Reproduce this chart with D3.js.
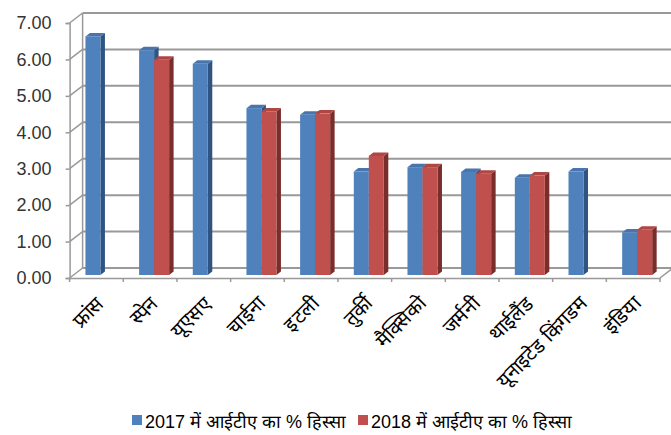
<!DOCTYPE html>
<html>
  <head>
    <meta charset="utf-8">
    <title>ITA share</title>
    <script src="https://cdn.jsdelivr.net/npm/d3@7"></script>
    <style>
      body { margin: 0; background: #fff; }
      text { font-family: "Liberation Sans", Arial, sans-serif; }
    </style>
  </head>
  <body>
    <svg width="671" height="435" id="mainsvg"></svg>
    <script>
      const categories = ['फ्रांस', 'स्पेन', 'यूएसए', 'चाईना', 'इटली', 'तुर्की', 'मैक्सिको', 'जर्मनी', 'थाईलैंड', 'यूनाइटेड किंगडम', 'इंडिया'];
      const share2017 = [6.55, 6.17, 5.80, 4.58, 4.40, 2.84, 2.96, 2.83, 2.67, 2.84, 1.17];
      const share2018 = [null, 5.91, null, 4.49, 4.43, 3.27, 2.96, 2.78, 2.73, null, 1.24];
      const seriesNames = ['2017 में आईटीए का % हिस्सा', '2018 में आईटीए का % हिस्सा'];
      const yTicks = [0, 1, 2, 3, 4, 5, 6, 7];

      const colors = [
        {front: '#4F81BD', side: '#2F5482', top: '#4875AD'},
        {front: '#C0504D', side: '#7A2E2C', top: '#AE4744'}
      ];

      const svg = d3.select('#mainsvg');
      const width = +svg.attr('width');

      // depth of the 3d box (back wall offset)
      const DX = 13, DY = -10;

      const x = d3.scaleBand().domain(categories).range([69.6, 660]);
      const x1 = d3.scaleBand().domain([0, 1])
        .range([x.bandwidth() / 2 - 15, x.bandwidth() / 2 + 15]);
      const y = d3.scaleLinear().domain([0, 7]).range([278, 23]);

      const grid = svg.append('g');
      const lineCol = '#999';

      // back wall gridlines
      grid.selectAll('.gl').data(yTicks).join('line')
        .attr('x1', x.range()[0] + DX).attr('x2', width + 5)
        .attr('y1', d => y(d) + DY).attr('y2', d => y(d) + DY)
        .attr('stroke', lineCol).attr('stroke-width', 2);

      // left wall
      grid.selectAll('.diag').data(yTicks).join('line')
        .attr('x1', x.range()[0]).attr('x2', x.range()[0] + DX)
        .attr('y1', d => y(d)).attr('y2', d => y(d) + DY)
        .attr('stroke', lineCol).attr('stroke-width', 1.5);
      grid.append('line')
        .attr('x1', x.range()[0] + DX).attr('x2', x.range()[0] + DX)
        .attr('y1', y(7) + DY).attr('y2', y(0) + DY)
        .attr('stroke', lineCol).attr('stroke-width', 1.5);

      // front value axis
      const yAxis = d3.axisLeft(y).tickValues(yTicks).tickFormat(d3.format('.2f')).tickSize(4).tickPadding(14);
      const ya = svg.append('g').attr('transform', `translate(${x.range()[0]},0)`).call(yAxis);
      ya.select('.domain').attr('stroke', lineCol).attr('stroke-width', 1.5);
      ya.selectAll('.tick line').attr('stroke', lineCol).attr('stroke-width', 1.5);
      ya.selectAll('.tick text').attr('font-size', 18).attr('fill', '#333')
        .attr('font-family', '"Liberation Sans", Arial, sans-serif');

      // floor
      const xAxis = d3.axisBottom(x).tickSize(0).tickFormat('');
      const xa = svg.append('g').attr('transform', `translate(0,${y(0)})`).call(xAxis);
      xa.select('.domain').attr('stroke', lineCol).attr('stroke-width', 1.5);
      const bounds = categories.map(c => x(c)).concat([x.range()[1]]);
      svg.selectAll('.ftick').data(bounds).join('line')
        .attr('x1', d => d).attr('x2', d => d)
        .attr('y1', y(0)).attr('y2', y(0) + 4)
        .attr('stroke', lineCol).attr('stroke-width', 1.5);
      svg.append('line')
        .attr('x1', x.range()[1]).attr('y1', y(0))
        .attr('x2', x.range()[1] + DX).attr('y2', y(0) + DY)
        .attr('stroke', lineCol).attr('stroke-width', 1.5);

      // bars (pseudo 3d)
      const bars = [];
      categories.forEach((c, i) => {
        [share2017[i], share2018[i]].forEach((v, s) => {
          if (v != null) bars.push({cat: c, s: s, value: v});
        });
      });

      const bfx = 4, bfy = -3;   // bar front plane offset
      const bdx = 4.5, bdy = -3.5; // bar depth
      const bw = x1.bandwidth();

      const barG = svg.append('g').selectAll('g').data(bars).join('g');
      barG.append('path')
        .attr('fill', d => colors[d.s].side)
        .attr('d', d => {
          const x0 = x(d.cat) + x1(d.s) + bfx + bw;
          const yt = y(d.value) + bfy, yb = y(0) + bfy;
          return `M${x0},${yt}L${x0 + bdx},${yt + bdy}L${x0 + bdx},${yb + bdy}L${x0},${yb}Z`;
        });
      barG.append('path')
        .attr('fill', d => colors[d.s].top)
        .attr('d', d => {
          const x0 = x(d.cat) + x1(d.s) + bfx;
          const yt = y(d.value) + bfy;
          return `M${x0},${yt}L${x0 + bdx},${yt + bdy}L${x0 + bw + bdx},${yt + bdy}L${x0 + bw},${yt}Z`;
        });
      barG.append('rect')
        .attr('fill', d => colors[d.s].front)
        .attr('x', d => x(d.cat) + x1(d.s) + bfx)
        .attr('width', bw)
        .attr('y', d => y(d.value) + bfy)
        .attr('height', d => y(0) - y(d.value));

      // category labels
      svg.selectAll('.cat').data(categories).join('text')
        .attr('class', 'cat')
        .attr('transform', d => `translate(${x(d) + x.bandwidth() / 2 + 4},${y(0) + 22}) rotate(-45)`)
        .attr('text-anchor', 'end')
        .attr('dy', '0.35em')
        .attr('font-size', 20)
        .attr('fill', '#000')
        .text(d => d);

      // legend
      const legendX = [132, 358];
      const lg = svg.append('g').selectAll('g').data(seriesNames).join('g')
        .attr('transform', (d, i) => `translate(${legendX[i]},415)`);
      lg.append('rect').attr('width', 10).attr('height', 10)
        .attr('fill', (d, i) => colors[i].front);
      lg.append('text').attr('x', 13).attr('y', 13)
        .attr('font-size', 18)
        .attr('font-family', '"Liberation Sans Narrow", "Liberation Sans", Arial, sans-serif')
        .attr('fill', '#000')
        .text(d => d);
    </script>
  </body>
</html>
